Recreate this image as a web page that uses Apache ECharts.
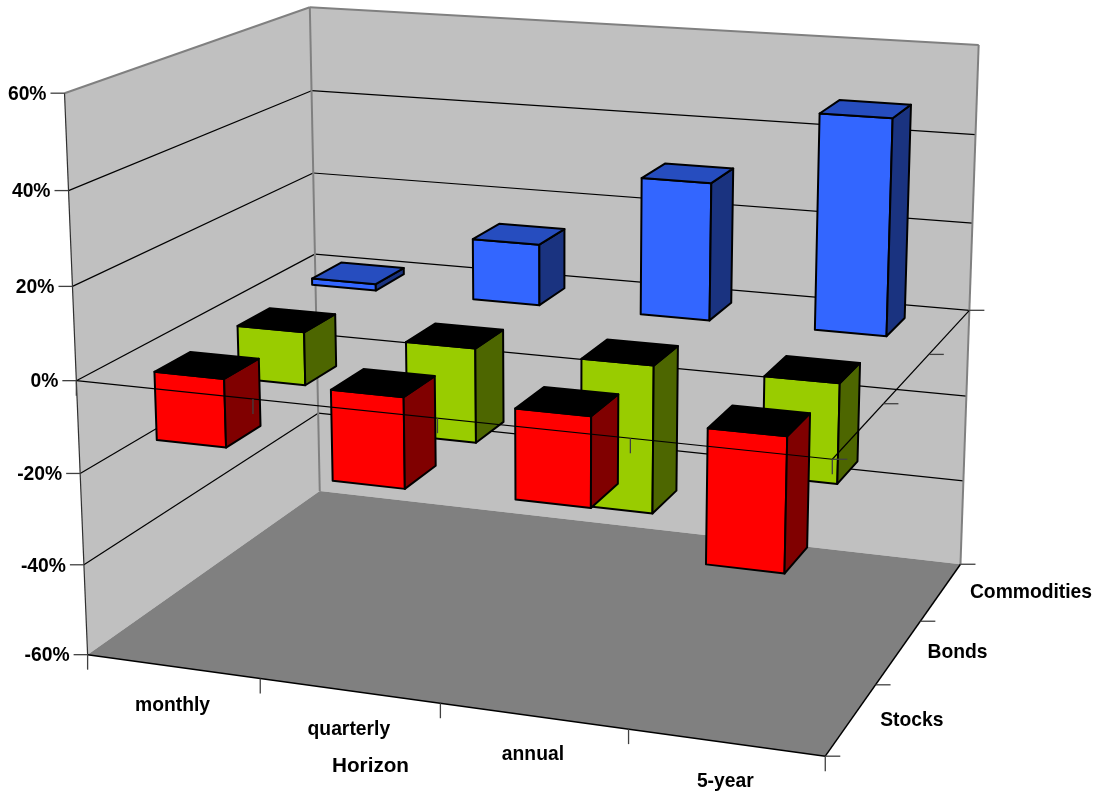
<!DOCTYPE html>
<html>
<head>
<meta charset="utf-8">
<style>html,body{margin:0;padding:0;background:#fff}#chart{width:1096px;height:791px}</style>
<script src="https://cdn.jsdelivr.net/npm/echarts@6/dist/echarts.min.js"></script>
</head>
<body>
<div id="chart"></div>
<script>
const horizons = ['monthly', 'quarterly', 'annual', '5-year'];
const assets = ['Stocks', 'Bonds', 'Commodities'];
const stocks = [-14.8, -19.4, -19, -28];
const bonds = [-12, -21, -32.5, -21.6];
const commodities = [1.5, 14, 31, 48];
const valueTicks = [-60, -40, -20, 0, 20, 40, 60];

const WALL = '#c0c0c0', FLOOR = '#808080', EDGE = '#808080', INK = '#000000', TICK = '#404040';
const FONT = '"Liberation Sans", Arial, sans-serif';
const BAR_WIDTH = 0.4, BAR_DEPTH = 0.42;

// Camera calibration: box corners [x, height, depth] (unit cube) and where they land on the page.
const calibration = [
  [0, 0, 0, 88, 655], [1, 0, 0, 825, 757], [1, 0, 1, 961, 563], [0, 0, 1, 320, 491],
  [0, 1, 0, 65, 93], [0, 1, 1, 310, 7], [1, 1, 1, 979, 45],
  [0, .5, 0, 76, 380], [1, .5, 0, 832, 459], [1, .5, 1, 969, 311], [0, .5, 1, 314, 255]
];

function solveLinear(A, b) {
  const n = b.length;
  const M = A.map((row, i) => row.concat(b[i]));
  for (let c = 0; c < n; c++) {
    let p = c;
    for (let r = c + 1; r < n; r++) if (Math.abs(M[r][c]) > Math.abs(M[p][c])) p = r;
    [M[c], M[p]] = [M[p], M[c]];
    for (let r = 0; r < n; r++) {
      if (r === c) continue;
      const f = M[r][c] / M[c][c];
      for (let k = c; k <= n; k++) M[r][k] -= f * M[c][k];
    }
  }
  return M.map((row, i) => row[n] / row[i]);
}

// Least-squares fit of the 3x4 projective matrix (last entry fixed to 1).
function fitCamera(points) {
  const rows = [], rhs = [];
  points.forEach(([x, y, z, u0, v0]) => {
    const u = u0 / 1000, v = v0 / 1000;
    rows.push([x, y, z, 1, 0, 0, 0, 0, -u * x, -u * y, -u * z]); rhs.push(u);
    rows.push([0, 0, 0, 0, x, y, z, 1, -v * x, -v * y, -v * z]); rhs.push(v);
  });
  const n = 11;
  const ATA = Array.from({ length: n }, (_, i) => Array.from({ length: n }, (_, j) =>
    rows.reduce((s, r) => s + r[i] * r[j], 0)));
  const ATb = Array.from({ length: n }, (_, i) => rows.reduce((s, r, k) => s + r[i] * rhs[k], 0));
  return solveLinear(ATA, ATb);
}

const cam = fitCamera(calibration);
function project(x, y, z) {
  const w = cam[8] * x + cam[9] * y + cam[10] * z + 1;
  return [1000 * (cam[0] * x + cam[1] * y + cam[2] * z + cam[3]) / w,
          1000 * (cam[4] * x + cam[5] * y + cam[6] * z + cam[7]) / w];
}

// Turns axis scale output into box fractions, then onto the page.
function scaler(params, api) {
  const g = params.coordSys;
  const xOf = i => (api.coord([i, 0])[0] - g.x) / g.width;
  const hOf = v => 1 - (api.coord([0, v])[1] - g.y) / g.height;
  const band = api.size([1, 0])[0] / g.width;
  return { xOf, hOf, band };
}

const poly = (points, fill, stroke, lw) => ({
  type: 'polygon', shape: { points },
  style: { fill, stroke: stroke || null, lineWidth: lw || 0, lineJoin: 'round' }
});
const line = (a, b, stroke, lw) => ({
  type: 'line', shape: { x1: a[0], y1: a[1], x2: b[0], y2: b[1] },
  style: { stroke, lineWidth: lw || 1.2 }
});
const label = (text, x, y, align, size) => ({
  type: 'text', x, y,
  style: { text, fill: INK, font: `bold ${size || 19.3}px ${FONT}`, align: align || 'center', verticalAlign: 'middle' }
});

function renderWalls(params, api) {
  const { hOf } = scaler(params, api);
  const kids = [
    poly([project(0, 0, 0), project(0, 0, 1), project(0, 1, 1), project(0, 1, 0)], WALL),
    poly([project(0, 0, 1), project(1, 0, 1), project(1, 1, 1), project(0, 1, 1)], WALL),
    poly([project(0, 0, 0), project(1, 0, 0), project(1, 0, 1), project(0, 0, 1)], FLOOR)
  ];
  valueTicks.slice(1, -1).forEach(v => {
    const h = hOf(v);
    kids.push(line(project(0, h, 0), project(0, h, 1), INK));
    kids.push(line(project(0, h, 1), project(1, h, 1), INK));
  });
  kids.push(line(project(0, 1, 0), project(0, 1, 1), EDGE, 2));
  kids.push(line(project(0, 1, 1), project(1, 1, 1), EDGE, 2));
  kids.push(line(project(0, 0, 1), project(0, 1, 1), EDGE, 2));
  kids.push(line(project(1, 0, 1), project(1, 1, 1), EDGE, 2));
  kids.push(line(project(0, 0, 0), project(0, 1, 0), '#303030', 1.2));
  kids.push(line(project(0, 0, 0), project(1, 0, 0), INK, 1.5));
  kids.push(line(project(1, 0, 0), project(1, 0, 1), INK, 1.5));
  return { type: 'group', children: kids };
}

function barRenderer(rowIndex, front, side, top) {
  return function (params, api) {
    const { xOf, hOf, band } = scaler(params, api);
    const cx = xOf(api.value(0));
    const value = api.value(1);
    const x0 = cx - band * BAR_WIDTH / 2, x1 = cx + band * BAR_WIDTH / 2;
    const zc = (rowIndex + .5) / assets.length, dz = BAR_DEPTH / assets.length / 2;
    const z0 = zc - dz, z1 = zc + dz;
    const hi = hOf(Math.max(value, 0)), lo = hOf(Math.min(value, 0));
    const lw = 2;
    return {
      type: 'group',
      children: [
        poly([project(x0, lo, z0), project(x1, lo, z0), project(x1, hi, z0), project(x0, hi, z0)], front, INK, lw),
        poly([project(x1, lo, z0), project(x1, lo, z1), project(x1, hi, z1), project(x1, hi, z0)], side, INK, lw),
        poly([project(x0, hi, z0), project(x1, hi, z0), project(x1, hi, z1), project(x0, hi, z1)], value < 0 ? INK : top, INK, lw)
      ]
    };
  };
}

// Zero-plane axis lines and ticks sit above the bars; outer ticks and labels go with them.
function renderOverlay(params, api) {
  const { hOf } = scaler(params, api);
  const zero = hOf(0);
  const kids = [
    line(project(0, zero, 0), project(1, zero, 0), INK, 1.2),
    line(project(1, zero, 0), project(1, zero, 1), INK, 1.2)
  ];
  valueTicks.forEach(v => {
    const p = project(0, hOf(v), 0);
    kids.push(line([p[0] - 14, p[1]], p, TICK, 1.3));
    kids.push(label(v + '%', p[0] - 18, p[1] + 1.5, 'right'));
  });
  for (let i = 0; i <= horizons.length; i++) {
    const x = i / horizons.length;
    const onZero = project(x, zero, 0), onFloor = project(x, 0, 0);
    kids.push(line(onZero, [onZero[0], onZero[1] + 15], TICK, 1.3));
    kids.push(line(onFloor, [onFloor[0], onFloor[1] + 15], TICK, 1.3));
  }
  for (let k = 0; k <= assets.length; k++) {
    const z = k / assets.length;
    const onZero = project(1, zero, z), onFloor = project(1, 0, z);
    kids.push(line(onZero, [onZero[0] + 15, onZero[1]], TICK, 1.3));
    kids.push(line(onFloor, [onFloor[0] + 15, onFloor[1]], TICK, 1.3));
  }
  horizons.forEach((name, i) => {
    const p = project((i + .5) / horizons.length, 0, 0);
    kids.push(label(name, p[0] - 0.5, p[1] + 39));
  });
  assets.forEach((name, k) => {
    const p = project(1, 0, (k + .5) / assets.length);
    kids.push(label(name, p[0] + 29, p[1] + 1, 'left'));
  });
  return { type: 'group', children: kids };
}

const toRows = values => values.map((v, i) => [i, v]);
const barStyles = [
  { name: 'Commodities', values: commodities, row: 2, front: '#3366ff', side: '#1a3380', top: '#264dbf' },
  { name: 'Bonds', values: bonds, row: 1, front: '#99cc00', side: '#4d6600', top: '#000000' },
  { name: 'Stocks', values: stocks, row: 0, front: '#ff0000', side: '#800000', top: '#000000' }
];

const chart = echarts.init(document.getElementById('chart'), null, { renderer: 'canvas' });
chart.setOption({
  animation: false,
  backgroundColor: '#ffffff',
  grid: { left: 0, right: 0, top: 0, bottom: 0 },
  xAxis: { type: 'category', data: horizons, show: false },
  yAxis: { type: 'value', min: -60, max: 60, interval: 20, show: false },
  graphic: [{
    type: 'text', left: 332, top: 756, z: 100,
    style: { text: 'Horizon', fill: INK, font: `bold 20.7px ${FONT}` }
  }],
  series: [
    { type: 'custom', name: 'walls', z: 1, silent: true, data: [[0, 0]], renderItem: renderWalls },
    ...barStyles.map((s, i) => ({
      type: 'custom', name: s.name, z: 2 + i, silent: true, data: toRows(s.values),
      renderItem: barRenderer(s.row, s.front, s.side, s.top)
    })),
    { type: 'custom', name: 'axes', z: 9, silent: true, data: [[0, 0]], renderItem: renderOverlay }
  ]
});
</script>
</body>
</html>
